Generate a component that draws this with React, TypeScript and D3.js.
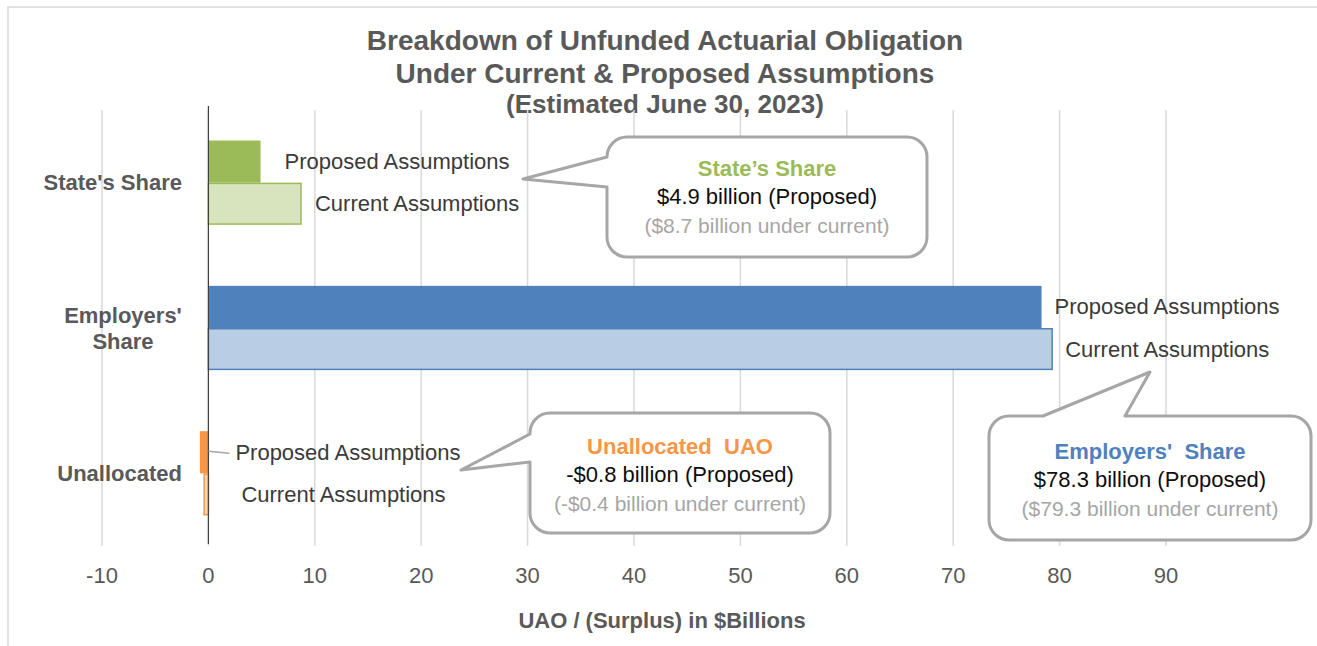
import React from "react";
import * as d3 from "d3";

// ---------- data ----------
const categories = ["State's Share", "Employers' Share", "Unallocated"];
const categoryLabelLines = [["State's Share"], ["Employers'", "Share"], ["Unallocated"]];
const series = ["Proposed", "Current"];
const seriesLabels = ["Proposed Assumptions", "Current Assumptions"];
const proposedValues = [4.9, 78.3, -0.8];
const currentValues = [8.7, 79.3, -0.4];
const xTicks = [-10, 0, 10, 20, 30, 40, 50, 60, 70, 80, 90];

const titleLines = [
  "Breakdown of Unfunded Actuarial Obligation",
  "Under Current & Proposed Assumptions",
  "(Estimated June 30, 2023)",
];
const xAxisTitle = "UAO / (Surplus) in $Billions";

const calloutTitles = ["State\u2019s Share", "Employers'  Share", "Unallocated  UAO"];
const calloutMain = ["$4.9 billion (Proposed)", "$78.3 billion (Proposed)", "-$0.8 billion (Proposed)"];
const calloutSub = ["($8.7 billion under current)", "($79.3 billion under current)", "(-$0.4 billion under current)"];

// ---------- styles / layout ----------
const W = 1317;
const H = 646;
const FONT = "'Liberation Sans', Arial, Helvetica, sans-serif";
const proposedFill = ["#9bbb59", "#4f81bd", "#f79646"];
const currentFill = ["#d7e4bd", "#b9cde5", "#fcd5b5"];
const proposedLabelDx = [24, 13, 27];
const currentLabelDx = [14, 13, 33];

type Box = { x0: number; y0: number; x1: number; y1: number; r: number };
type Pointer =
  | { side: "left"; a: number; b: number; tip: [number, number] }
  | { side: "top"; a: number; b: number; tip: [number, number] };

const calloutBoxes: { box: Box; ptr: Pointer; cx: number; cy: number }[] = [
  { box: { x0: 607, y0: 137, x1: 927, y1: 257, r: 20 }, ptr: { side: "left", a: 157, b: 187, tip: [523, 179] }, cx: 767, cy: 196 },
  { box: { x0: 989, y0: 416, x1: 1311, y1: 540, r: 20 }, ptr: { side: "top", a: 1043, b: 1125, tip: [1150, 372] }, cx: 1150, cy: 479 },
  { box: { x0: 530, y0: 413, x1: 830, y1: 533, r: 20 }, ptr: { side: "left", a: 434, b: 462, tip: [461, 470] }, cx: 680, cy: 474 },
];

function calloutPath(b: Box, p: Pointer): string {
  const { x0, y0, x1, y1, r } = b;
  let s = `M${x0 + r},${y0}`;
  if (p.side === "top") {
    s += ` L${p.a},${y0} L${p.tip[0]},${p.tip[1]} L${p.b},${y0}`;
  }
  s += ` L${x1 - r},${y0} A${r},${r} 0 0 1 ${x1},${y0 + r}`;
  s += ` L${x1},${y1 - r} A${r},${r} 0 0 1 ${x1 - r},${y1}`;
  s += ` L${x0 + r},${y1} A${r},${r} 0 0 1 ${x0},${y1 - r}`;
  if (p.side === "left") {
    s += ` L${x0},${p.b} L${p.tip[0]},${p.tip[1]} L${x0},${p.a}`;
  }
  s += ` L${x0},${y0 + r} A${r},${r} 0 0 1 ${x0 + r},${y0} Z`;
  return s;
}

export default function App() {
  const x = d3.scaleLinear().domain([-10, 90]).range([102, 1166]);
  const y = d3.scaleBand<string>().domain(categories).range([110, 546]).paddingInner(0.42).paddingOuter(0.21);
  const sub = d3.scaleBand<string>().domain(series).range([0, y.bandwidth()]);

  const rows = categories.map((c, i) => ({ c, i, vals: [proposedValues[i], currentValues[i]] }));

  return (
    <svg
      width={W}
      height={H}
      style={{ position: "absolute", left: 0, top: 0, background: "#fff", fontFamily: FONT }}
    >
      <rect x={8} y={7} width={1330} height={660} fill="#fff" stroke="#d9d9d9" strokeWidth={1.5} />

      {/* title */}
      {titleLines.map((t, i) => (
        <text
          key={t}
          x={665}
          y={[40, 73, 104][i]}
          textAnchor="middle"
          dominantBaseline="central"
          fontWeight="bold"
          fontSize={i < 2 ? 28 : 26}
          fill="#595959"
        >
          {t}
        </text>
      ))}

      {/* gridlines */}
      {xTicks.map((t) => (
        <line key={t} x1={x(t)} x2={x(t)} y1={110} y2={546} stroke="#d9d9d9" strokeWidth={1.5} />
      ))}

      {/* bars */}
      {rows.map((r) =>
        r.vals.map((v, j) => {
          const yy = (y(r.c) as number) + (sub(series[j]) as number);
          const xa = x(Math.min(0, v));
          const xb = x(Math.max(0, v));
          const isCur = j === 1;
          return (
            <rect
              key={r.c + j}
              x={xa}
              y={yy + (isCur ? 0.75 : 0)}
              width={xb - xa}
              height={sub.bandwidth() - (isCur ? 1.5 : 0)}
              fill={isCur ? currentFill[r.i] : proposedFill[r.i]}
              stroke={isCur ? proposedFill[r.i] : "none"}
              strokeWidth={1.5}
            />
          );
        })
      )}

      {/* vertical axis line at 0 */}
      <line x1={x(0)} x2={x(0)} y1={106} y2={544} stroke="#404040" strokeWidth={1.2} />

      {/* bar labels */}
      {rows.map((r) =>
        r.vals.map((v, j) => {
          const yy = (y(r.c) as number) + (sub(series[j]) as number) + sub.bandwidth() / 2;
          const dx = j === 0 ? proposedLabelDx[r.i] : currentLabelDx[r.i];
          const lx = x(Math.max(0, v)) + dx;
          return (
            <g key={"l" + r.c + j}>
              {r.i === 2 && j === 0 && (
                <line x1={x(0)} x2={lx - 6} y1={yy - 1} y2={yy + 1} stroke="#a6a6a6" strokeWidth={1.5} />
              )}
              <text x={lx} y={yy} dominantBaseline="central" fontSize={22} fill="#3a3a3a">
                {seriesLabels[j]}
              </text>
            </g>
          );
        })
      )}

      {/* category labels */}
      {rows.map((r) => {
        const lines = categoryLabelLines[r.i];
        const cy = (y(r.c) as number) + y.bandwidth() / 2;
        const multi = lines.length > 1;
        return (
          <text key={"c" + r.c} textAnchor={multi ? "middle" : "end"} fontWeight="bold" fontSize={22} fill="#595959">
            {lines.map((ln, k) => (
              <tspan key={ln} x={multi ? 123 : 182} y={cy + (k - (lines.length - 1) / 2) * 26} dominantBaseline="central">
                {ln}
              </tspan>
            ))}
          </text>
        );
      })}

      {/* tick labels */}
      {xTicks.map((t) => (
        <text key={"t" + t} x={x(t)} y={575} textAnchor="middle" dominantBaseline="central" fontSize={22} fill="#595959">
          {t}
        </text>
      ))}
      <text x={662} y={620} textAnchor="middle" dominantBaseline="central" fontSize={22} fontWeight="bold" fill="#595959">
        {xAxisTitle}
      </text>

      {/* callouts */}
      {calloutBoxes.map((cb, i) => (
        <g key={"cb" + i}>
          <path d={calloutPath(cb.box, cb.ptr)} fill="#fff" stroke="#a6a6a6" strokeWidth={3} strokeLinejoin="round" />
          <text x={cb.cx} y={cb.cy - 28} textAnchor="middle" dominantBaseline="central" fontSize={22} fontWeight="bold" fill={proposedFill[i]} style={{ whiteSpace: "pre" }}>
            {calloutTitles[i]}
          </text>
          <text x={cb.cx} y={cb.cy} textAnchor="middle" dominantBaseline="central" fontSize={22} fill="#0d0d0d">
            {calloutMain[i]}
          </text>
          <text x={cb.cx} y={cb.cy + 29} textAnchor="middle" dominantBaseline="central" fontSize={21} fill="#a6a6a6">
            {calloutSub[i]}
          </text>
        </g>
      ))}
    </svg>
  );
}
